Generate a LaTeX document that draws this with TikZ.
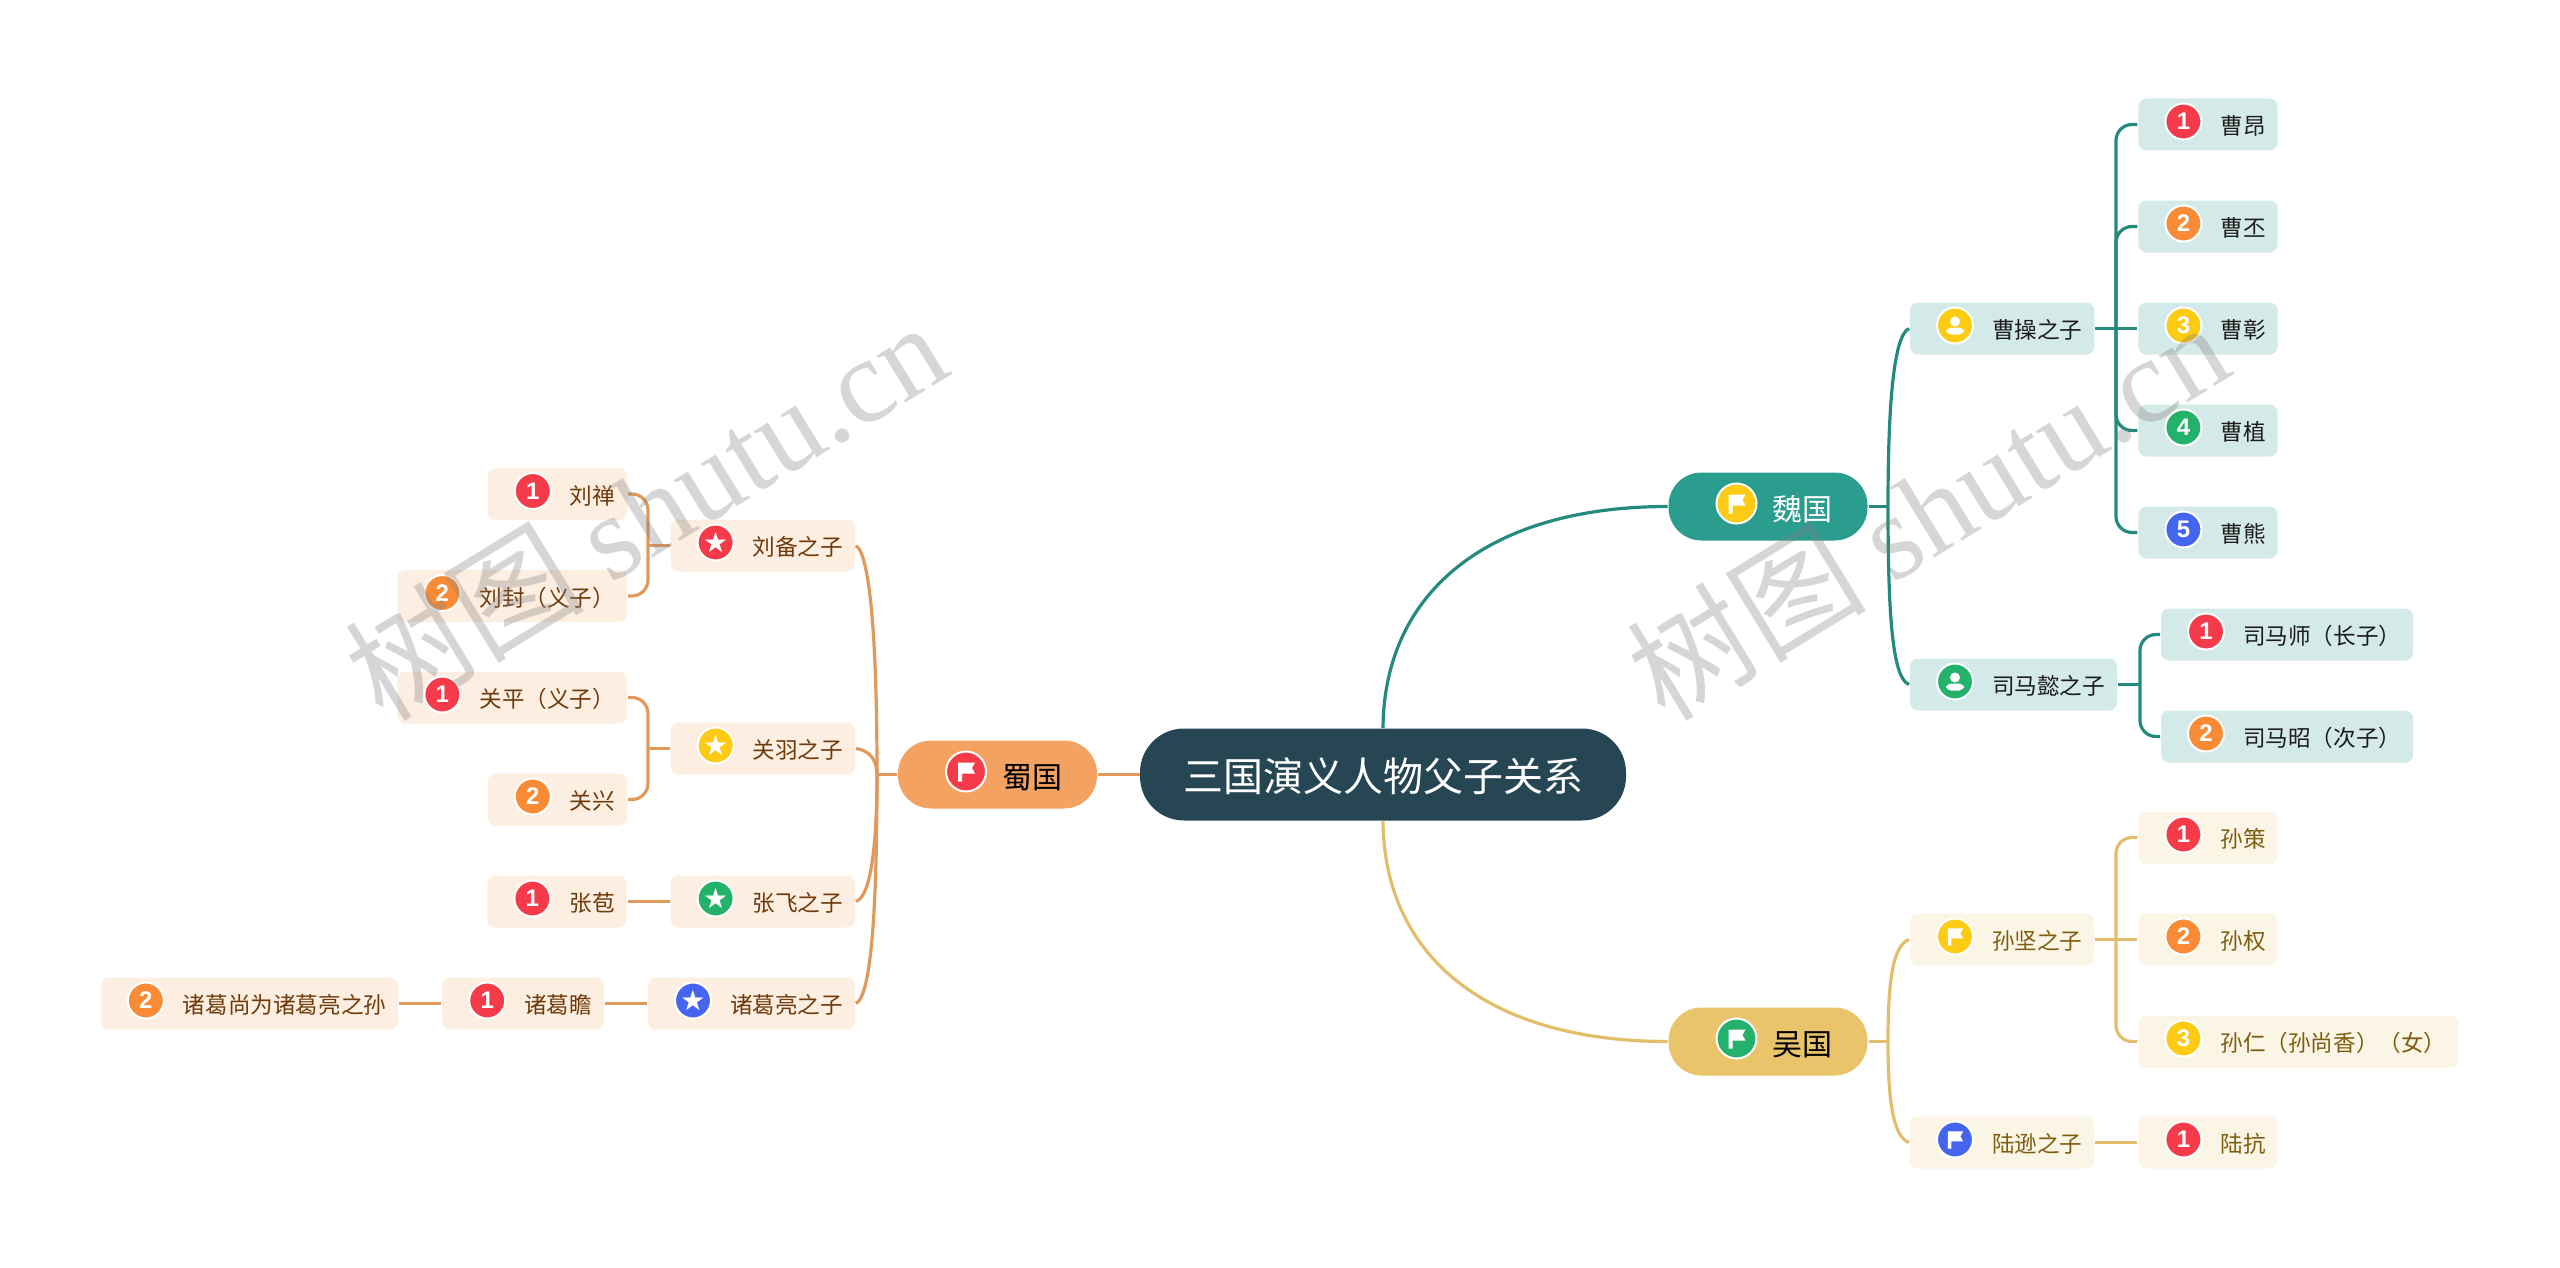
\documentclass[tikz,border=0pt]{standalone}
\usepackage{fontspec}
\setmainfont{Noto Sans CJK SC}
\newfontfamily\symfont{DejaVu Sans}
\newfontfamily\numfont{Liberation Sans}
\newfontfamily\wmfont{Liberation Serif}
\usetikzlibrary{positioning}
\definecolor{sgnavy}{HTML}{264653}
\definecolor{weifill}{HTML}{2A9D8F}
\definecolor{weiline}{HTML}{248B7C}
\definecolor{weilight}{HTML}{D4EAE8}
\definecolor{weitext}{HTML}{1C1C1C}
\definecolor{wufill}{HTML}{E9C46A}
\definecolor{wuline}{HTML}{E3BE6A}
\definecolor{wulight}{HTML}{FBF5E6}
\definecolor{wutext}{HTML}{7D5E10}
\definecolor{shufill}{HTML}{F4A261}
\definecolor{shuline}{HTML}{DF9A5B}
\definecolor{shulight}{HTML}{FDEEE2}
\definecolor{shutext}{HTML}{6E3A0A}
\definecolor{icred}{HTML}{F53B49}
\definecolor{icorange}{HTML}{F98B36}
\definecolor{icyellow}{HTML}{FDCB14}
\definecolor{icgreen}{HTML}{24B26B}
\definecolor{icblue}{HTML}{4565EE}

\begin{document}
\begin{tikzpicture}[
  x=0.5pt,y=-0.5pt,
  root/.style={fill=sgnavy,text=white,rounded corners=22pt,minimum width=243pt,minimum height=46pt,
               inner sep=0pt,text height=16.5pt,text depth=0pt,font=\fontsize{20}{20}\selectfont},
  king/.style={rounded corners=16.5pt,minimum height=34pt,inner ysep=0pt,inner xsep=17.5pt,outer sep=0.5pt,
               text height=13.5pt,text depth=0pt,font=\fontsize{15}{15}\selectfont,
               execute at begin node={\hspace{34.5pt}}},
  leaf/.style={rounded corners=4pt,minimum height=26pt,inner ysep=0pt,inner xsep=6pt,outer sep=0.5pt,
               text height=10pt,text depth=0pt,font=\fontsize{11.3}{11.3}\selectfont,
               execute at begin node={\hspace{35pt}}},
  tleaf/.style={leaf,fill=weilight,text=weitext},
  yleaf/.style={leaf,fill=wulight,text=wutext},
  oleaf/.style={leaf,fill=shulight,text=shutext},
  ico/.style={circle,draw=white,line width=1pt,fill=#1,text=white,minimum size=18pt,inner sep=0pt,
              font=\numfont\bfseries\fontsize{12}{12}\selectfont,xshift=23pt,yshift=1.5pt},
  kico/.style={ico=#1,minimum size=20pt,xshift=11.5pt},
  starico/.style={ico=#1,font=\symfont\fontsize{14}{14}\selectfont},
  tline/.style={draw=weiline,line width=1.6pt},
  yline/.style={draw=wuline,line width=1.6pt},
  oline/.style={draw=shuline,line width=1.6pt},
  elbow/.style={rounded corners=8pt},
  wmark/.style={rotate=31.5,text=gray,opacity=.32,font=\fontsize{60}{60}\selectfont},
  person/.pic={\fill[white] (0,-4) circle (5); \fill[white,rounded corners=2.5pt] (-9,9) rectangle (9,2);},
  flag/.pic={\fill[white] (-8,-9) -- (9,-9) -- (6,-3.5) -- (9,2) -- (-4,2) -- (-4,10) -- (-8,10) -- cycle;},
  node distance=24pt and 21pt
]
\useasboundingbox (0,-0.5) rectangle (2560,1267.5);

\node[root] (root) at (1383,774) {三国演义人物父子关系};
\node[king,fill=weifill,text=white,anchor=west] (wei) at (1667.5,506) {魏国};
\node[king,fill=wufill,text=black,anchor=west] (wu) at (1667.5,1041) {吴国};
\node[king,fill=shufill,text=black,anchor=east] (shu) at (1098,774) {蜀国};

\node[tleaf,anchor=west] (caocao) at (1909,328) {曹操之子};
\node[tleaf,right=of caocao] (zhang) {曹彰};
\node[tleaf,above=of zhang] (pi) {曹丕};
\node[tleaf,above=of pi] (ang) {曹昂};
\node[tleaf,below=of zhang] (zhi) {曹植};
\node[tleaf,below=of zhi] (xiong) {曹熊};
\node[tleaf,anchor=west] (simayi) at (1909,684) {司马懿之子};
\node[tleaf,anchor=west] (shi) at (2160,634) {司马师（长子）};
\node[tleaf,below=of shi] (zhao) {司马昭（次子）};

\node[yleaf,anchor=west] (sunjian) at (1909,939) {孙坚之子};
\node[yleaf,right=of sunjian] (quan) {孙权};
\node[yleaf,above=of quan] (ce) {孙策};
\node[yleaf,below=of quan.south west,anchor=north west] (ren) {孙仁（孙尚香）（女）};
\node[yleaf,anchor=west] (luxun) at (1909,1142) {陆逊之子};
\node[yleaf,right=of luxun] (kang) {陆抗};

\node[oleaf,anchor=east] (liubei) at (856,545) {刘备之子};
\node[oleaf,anchor=east] (shan) at (628,493.5) {刘禅};
\node[oleaf,anchor=east] (feng) at (628,595.5) {刘封（义子）};
\node[oleaf,anchor=east] (guanyu) at (856,748) {关羽之子};
\node[oleaf,anchor=east] (ping) at (628,697) {关平（义子）};
\node[oleaf,anchor=east] (xing) at (628,799) {关兴};
\node[oleaf,anchor=east] (zhangfei) at (856,901) {张飞之子};
\node[oleaf,left=of zhangfei] (bao) {张苞};
\node[oleaf,anchor=east] (zhuge) at (856,1003) {诸葛亮之子};
\node[oleaf,left=of zhuge] (zhan) {诸葛瞻};
\node[oleaf,left=of zhan] (shang) {诸葛尚为诸葛亮之孙};

\coordinate (spwei) at (1888,506);
\coordinate (spcao) at (2116,328);
\coordinate (spsima) at (2140,684);
\coordinate (spwu) at (1888,1041);
\coordinate (spsun) at (2116,939);
\coordinate (spshu) at (877,774);
\coordinate (spbei) at (648,545);
\coordinate (spyu) at (648,748);

\draw[tline] (root.north) .. controls (1384,590) and (1490,506) .. (wei.west);
\draw[yline] (root.south) .. controls (1384,958) and (1490,1041) .. (wu.west);
\draw[oline] (root.west) -- (shu.east);

\draw[tline] (wei.east) -- (spwei);
\draw[tline] (spwei) .. controls (1888,410) and (1893,335) .. (caocao.west);
\draw[tline] (spwei) .. controls (1888,620) and (1893,678) .. (simayi.west);
\draw[tline] (caocao.east) -- (zhang.west);
\draw[tline,elbow] (ang.west) -| (spcao) |- (xiong.west);
\draw[tline,elbow] (pi.west) -| (spcao);
\draw[tline,elbow] (zhi.west) -| (spcao);
\draw[tline] (simayi.east) -- (spsima);
\draw[tline,elbow] (shi.west) -| (spsima) |- (zhao.west);

\draw[yline] (wu.east) -- (spwu);
\draw[yline] (spwu) .. controls (1888,985) and (1892,945) .. (sunjian.west);
\draw[yline] (spwu) .. controls (1888,1095) and (1892,1136) .. (luxun.west);
\draw[yline] (sunjian.east) -- (quan.west);
\draw[yline,elbow] (ce.west) -| (spsun) |- (ren.west);
\draw[yline] (luxun.east) -- (kang.west);

\draw[oline] (shu.west) -- (spshu);
\draw[oline] (spshu) .. controls (877,650) and (871,555) .. (liubei.east);
\draw[oline] (spshu) .. controls (877,760) and (870,750) .. (guanyu.east);
\draw[oline] (spshu) .. controls (877,830) and (873,895) .. (zhangfei.east);
\draw[oline] (spshu) .. controls (877,900) and (872,995) .. (zhuge.east);
\draw[oline] (liubei.west) -- (spbei);
\draw[oline,elbow] (shan.east) -| (spbei) |- (feng.east);
\draw[oline] (guanyu.west) -- (spyu);
\draw[oline,elbow] (ping.east) -| (spyu) |- (xing.east);
\draw[oline] (zhangfei.west) -- (bao.east);
\draw[oline] (zhuge.west) -- (zhan.east);
\draw[oline] (zhan.west) -- (shang.east);

\node[kico=icyellow] (iwei) at (wei.west) {};
\pic at (iwei) {flag};
\node[kico=icgreen] (iwu) at (wu.west) {};
\pic at (iwu) {flag};
\node[kico=icred] (ishu) at (shu.west) {};
\pic at (ishu) {flag};
\node[ico=icyellow] (icaocao) at (caocao.west) {};
\pic at (icaocao) {person};
\node[ico=icred] (iang) at (ang.west) {1};
\node[ico=icorange] (ipi) at (pi.west) {2};
\node[ico=icyellow] (izhang) at (zhang.west) {3};
\node[ico=icgreen] (izhi) at (zhi.west) {4};
\node[ico=icblue] (ixiong) at (xiong.west) {5};
\node[ico=icgreen] (isimayi) at (simayi.west) {};
\pic at (isimayi) {person};
\node[ico=icred] (ishi) at (shi.west) {1};
\node[ico=icorange] (izhao) at (zhao.west) {2};
\node[ico=icyellow] (isunjian) at (sunjian.west) {};
\pic[scale=.9] at (isunjian) {flag};
\node[ico=icred] (ice) at (ce.west) {1};
\node[ico=icorange] (iquan) at (quan.west) {2};
\node[ico=icyellow] (iren) at (ren.west) {3};
\node[ico=icblue] (iluxun) at (luxun.west) {};
\pic[scale=.9] at (iluxun) {flag};
\node[ico=icred] (ikang) at (kang.west) {1};
\node[starico=icred] (iliubei) at (liubei.west) {★};
\node[ico=icred] (ishan) at (shan.west) {1};
\node[ico=icorange] (ifeng) at (feng.west) {2};
\node[starico=icyellow] (iguanyu) at (guanyu.west) {★};
\node[ico=icred] (iping) at (ping.west) {1};
\node[ico=icorange] (ixing) at (xing.west) {2};
\node[starico=icgreen] (izhangfei) at (zhangfei.west) {★};
\node[ico=icred] (ibao) at (bao.west) {1};
\node[starico=icblue] (izhuge) at (zhuge.west) {★};
\node[ico=icred] (izhan) at (zhan.west) {1};
\node[ico=icorange] (ishang) at (shang.west) {2};

\node[wmark] (wmleft) at (645,509) {树图 {\wmfont shutu.cn}};
\node[wmark] (wmright) at (1927,509) {树图 {\wmfont shutu.cn}};
\end{tikzpicture}
\end{document}
